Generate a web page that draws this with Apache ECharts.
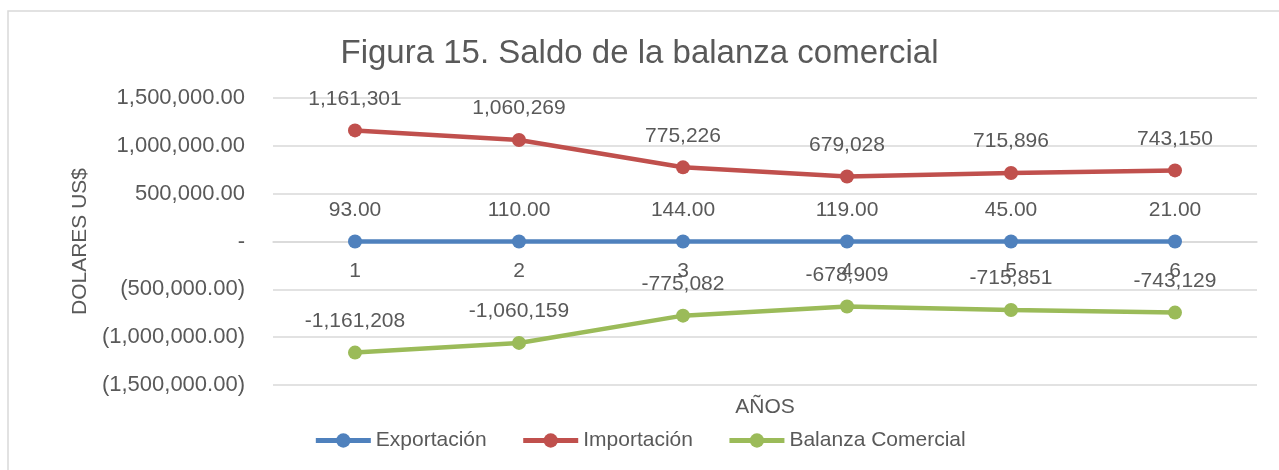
<!DOCTYPE html>
<html><head><meta charset="utf-8">
<script src="https://cdn.jsdelivr.net/npm/echarts@6/dist/echarts.min.js"></script>
<style>html,body{margin:0;padding:0;background:#fff}#c{width:1279px;height:470px}</style>
</head><body><div id="c"></div>
<script>
const categories = ['1','2','3','4','5','6'];
const exportacion = [93, 110, 144, 119, 45, 21];
const importacion = [1161301, 1060269, 775226, 679028, 715896, 743150];
const balanza = [-1161208, -1060159, -775082, -678909, -715851, -743129];
const yTicks = { min: -1500000, max: 1500000, interval: 500000 };

const FONT = '"Liberation Sans", Arial, sans-serif';
const TXT = '#595959';
const fmtInt = v => v.toLocaleString('en-US', {maximumFractionDigits: 0});
const fmt2 = v => v.toLocaleString('en-US', {minimumFractionDigits: 2, maximumFractionDigits: 2});
const axisFmt = v => v === 0 ? '-' : (v < 0 ? '(' + fmt2(-v) + ')' : fmt2(v));

const chart = echarts.init(document.getElementById('c'));
function ser(name, data, color, fmt) {
  return {
    name, type: 'line', data,
    symbol: 'circle', symbolSize: 14,
    lineStyle: { color, width: 4.5 },
    itemStyle: { color },
    label: { show: true, position: 'top', distance: 14, color: TXT, fontSize: 21, fontFamily: FONT,
      formatter: p => fmt(p.value) }
  };
}
chart.setOption({
  animation: false,
  textStyle: { fontFamily: FONT },
  graphic: [{ type: 'rect', shape: { x: 8, y: 11, width: 1400, height: 600 },
    style: { fill: 'none', stroke: '#D9D9D9', lineWidth: 1.5 }, silent: true, z: -10 }],
  title: { text: 'Figura 15. Saldo de la balanza comercial', left: 'center', top: 32,
    textStyle: { color: TXT, fontSize: 33, fontWeight: 'normal', fontFamily: FONT } },
  legend: { bottom: 14, left: 'center', itemWidth: 55, itemHeight: 18, itemGap: 34,
    lineStyle: { width: 5 },
    textStyle: { color: TXT, fontSize: 21, fontFamily: FONT },
    data: ['Exportación', 'Importación', 'Balanza Comercial'] },
  grid: { left: 273, right: 22, top: 98, bottom: 85, containLabel: false, outerBoundsMode: 'none' },
  xAxis: { type: 'category', data: categories, boundaryGap: true, position: 'bottom', offset: -143.5,
    name: 'AÑOS', nameLocation: 'middle', nameGap: 155,
    nameTextStyle: { color: TXT, fontSize: 21, fontFamily: FONT },
    axisLine: { show: true, onZero: false, lineStyle: { color: '#D9D9D9', width: 1.5 } },
    axisTick: { show: false },
    axisLabel: { color: TXT, fontSize: 21, margin: 19, fontFamily: FONT } },
  yAxis: { type: 'value', min: yTicks.min, max: yTicks.max, interval: yTicks.interval,
    name: 'DOLARES US$', nameLocation: 'middle', nameGap: 180, nameRotate: 90,
    nameTextStyle: { color: TXT, fontSize: 21, fontFamily: FONT },
    axisLine: { show: false }, axisTick: { show: false },
    splitLine: { lineStyle: { color: '#D9D9D9', width: 1.5 } },
    axisLabel: { color: TXT, fontSize: 22, margin: 28, fontFamily: FONT, formatter: axisFmt } },
  series: [
    ser('Exportación', exportacion, '#4F81BD', fmt2),
    ser('Importación', importacion, '#C0504D', fmtInt),
    ser('Balanza Comercial', balanza, '#9BBB59', fmtInt)
  ]
});
</script></body></html>
